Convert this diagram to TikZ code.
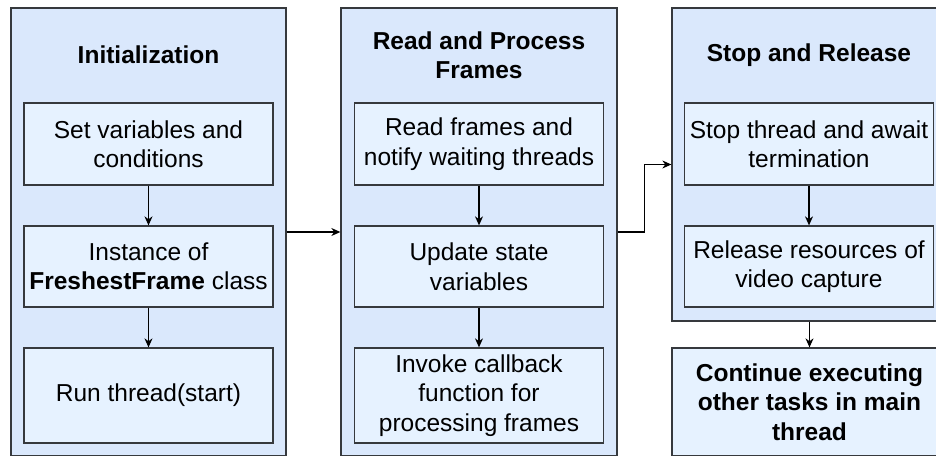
\documentclass[tikz,border=0pt]{standalone}
\usepackage{fontspec}
\setmainfont{Liberation Sans}
\usetikzlibrary{arrows.meta,calc}
\definecolor{outerfill}{HTML}{DAE8FC}
\definecolor{innerfill}{HTML}{E6F2FF}
\definecolor{edgecol}{HTML}{36393D}
\begin{document}
\begin{tikzpicture}[x=1pt,y=-1pt,
  outer/.style={rectangle, draw=edgecol, fill=outerfill, line width=1.3pt, inner sep=0pt},
  inner/.style={rectangle, draw=edgecol, fill=innerfill, line width=1.3pt, minimum width=249pt, inner sep=0pt, align=center, font=\fontsize{24.5}{29.5}\selectfont},
  ttl/.style={align=center, font=\bfseries\fontsize{24.5}{29.5}\selectfont, inner sep=0pt},
  arr/.style={-{Stealth[length=9pt,width=8pt]}, line width=1.2pt, draw=black}]
\useasboundingbox (0,0) rectangle (936,455);
\clip (0,0) rectangle (936,455);
\fill[white] (0,0) rectangle (936,455);
% outer containers
\node[outer, minimum width=275pt, minimum height=448pt] (col1) at (148.5,232) {};
\node[outer, minimum width=276pt, minimum height=448pt] (col2) at (479,232) {};
\node[outer, minimum width=275pt, minimum height=313pt] (col3) at (809.5,164.5) {};
\node[outer, fill=innerfill, minimum width=275pt, minimum height=108pt, align=center, font=\bfseries\fontsize{24.5}{29.5}\selectfont] (cont) at (809.5,402) {Continue executing\\other tasks in main\\thread};
% titles
\node[ttl] (t1) at (148.5,55) {Initialization};
\node[ttl] (t2) at (479,55) {Read and Process\\Frames};
\node[ttl] (t3) at (809,55) {Stop and Release};
% column 1
\node[inner, minimum height=82pt] (a1) at (148.5,144) {Set variables and\\conditions};
\node[inner, minimum height=81pt] (a2) at (148.5,266.5) {Instance of\\\textbf{FreshestFrame} class};
\node[inner, minimum height=95pt] (a3) at (148.5,395.5) {Run thread(start)};
% column 2
\node[inner, minimum height=82pt] (b1) at (479,144) {Read frames and\\notify waiting threads};
\node[inner, minimum height=81pt] (b2) at (479,266.5) {Update state\\variables};
\node[inner, minimum height=95pt] (b3) at (479,395.5) {Invoke callback\\function for\\processing frames};
% column 3
\node[inner, minimum height=82pt] (c1) at (809,144) {Stop thread and await\\termination};
\node[inner, minimum height=81pt] (c2) at (809,266.5) {Release resources of\\video capture};
% arrows
\draw[arr] (a1) -- (a2);
\draw[arr] (a2) -- (a3);
\draw[arr] (b1) -- (b2);
\draw[arr] (b2) -- (b3);
\draw[arr] (c1) -- (c2);
\draw[arr] (col1.east) -- (col2.west);
\draw[arr] (col2.east) -- ++(27,0) |- (col3.west);
\draw[arr] (col3.south) -- (cont.north);
\end{tikzpicture}
\end{document}
